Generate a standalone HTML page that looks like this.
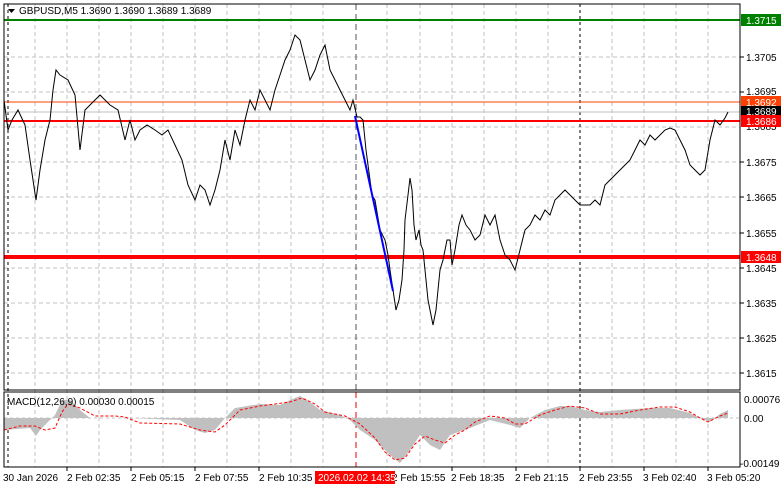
<!DOCTYPE html>
<html><head><meta charset="utf-8"><style>
body{margin:0;background:#fff;width:781px;height:489px;overflow:hidden;font-family:"Liberation Sans",sans-serif}
</style></head><body>
<svg width="781" height="489" viewBox="0 0 781 489" xmlns="http://www.w3.org/2000/svg" font-family="Liberation Sans, sans-serif" font-size="10">
<rect width="781" height="489" fill="#fff"/>
<g stroke="#c0c0c0" stroke-dasharray="4,3" stroke-width="1">
<line x1="4" x2="740" y1="57" y2="57"/><line x1="4" x2="740" y1="92" y2="92"/><line x1="4" x2="740" y1="127" y2="127"/><line x1="4" x2="740" y1="162" y2="162"/><line x1="4" x2="740" y1="197" y2="197"/><line x1="4" x2="740" y1="233" y2="233"/><line x1="4" x2="740" y1="268" y2="268"/><line x1="4" x2="740" y1="303" y2="303"/><line x1="4" x2="740" y1="338" y2="338"/><line x1="4" x2="740" y1="373" y2="373"/>
<path d="M35 4V467M67 4V467M99 4V467M131 4V467M163 4V467M195 4V467M227 4V467M259 4V467M291 4V467M323 4V467M387 4V467M420 4V467M452 4V467M484 4V467M516 4V467M548 4V467M612 4V467M644 4V467M676 4V467M708 4V467"/>
</g>
<line x1="8" x2="8" y1="4" y2="467" stroke="#000" stroke-dasharray="3,3"/>
<line x1="580" x2="580" y1="4" y2="467" stroke="#000" stroke-dasharray="3,3"/>
<line x1="356" x2="356" y1="4" y2="390" stroke="#555" stroke-dasharray="6,4"/>
<line x1="356" x2="356" y1="392" y2="467" stroke="#e00" stroke-dasharray="6,4"/>
<line x1="4" x2="740" y1="20" y2="20" stroke="#008000" stroke-width="2"/>
<line x1="4" x2="740" y1="102" y2="102" stroke="#ff4000" stroke-width="1"/>
<line x1="4" x2="740" y1="112" y2="112" stroke="#c0c0c0" stroke-width="1"/>
<line x1="4" x2="740" y1="121" y2="121" stroke="#ff0000" stroke-width="2"/>
<line x1="4" x2="740" y1="257" y2="257" stroke="#ff0000" stroke-width="4"/>
<polyline fill="none" stroke="#000" stroke-width="1" points="4,100 8,130 12,120 18,110 25,125 30,160 36,200 40,170 45,140 50,120 53,90 56,70 60,75 68,80 75,95 80,150 85,110 90,105 100,95 105,100 110,105 118,110 125,140 130,120 135,140 140,130 147,125 155,130 162,135 168,130 175,145 182,160 188,185 195,200 200,185 205,190 210,205 215,190 220,170 225,140 230,160 235,130 240,145 245,120 250,100 255,110 260,90 265,100 270,110 275,90 280,75 285,60 290,50 295,35 300,40 305,60 310,80 315,70 320,55 325,45 330,70 335,80 340,90 345,100 350,110 353,100 357,117 360,117 363,120 366,150 368,165 372,195 375,200 380,230 385,240 388,255 390,270 393,290 396,310 399,300 402,280 404,250 405,220 408,195 410,178 412,190 414,225 416,240 419,230 421,245 423,250 425,270 428,300 431,315 433,325 436,310 440,270 443,260 447,240 450,240 452,265 455,250 459,225 462,215 466,225 470,230 475,240 480,235 485,215 490,225 495,215 500,240 505,255 510,260 515,270 520,250 525,230 530,225 535,215 540,220 545,210 550,215 555,200 560,195 565,190 570,195 575,200 580,205 585,205 590,205 595,200 600,205 605,185 610,180 615,175 620,170 625,165 630,160 635,150 640,140 645,145 650,135 655,140 660,135 665,130 670,128 675,130 680,140 685,150 690,165 695,170 700,175 705,170 710,140 715,120 720,125 725,118 728,112"/>
<line x1="355" y1="116" x2="393" y2="291" stroke="#0000ff" stroke-width="2"/>
<polygon fill="#c0c0c0" points="4,418 4,430 30,428 36,436 40,430 55,415 62,400 70,400 80,410 90,418 130,418 180,420 195,430 205,433 215,430 225,418 235,408 260,404 280,405 290,400 300,396 310,402 320,410 340,415 350,420 360,430 375,440 390,455 400,463 410,450 420,435 430,445 440,450 450,435 470,428 490,420 510,425 520,428 530,418 545,410 560,406 570,406 585,410 600,412 620,410 650,408 670,408 690,413 700,418 710,422 720,414 728,410 728,418"/>
<line x1="4" x2="740" y1="418" y2="418" stroke="#c0c0c0" stroke-dasharray="3,3"/>
<polyline fill="none" stroke="#ff0000" stroke-dasharray="3,2" points="4,430 20,426 35,426 45,430 55,428 62,412 68,404 80,408 95,416 115,416 125,417 140,423 180,424 200,430 215,432 225,425 240,410 260,406 275,404 290,402 302,398 315,404 325,412 345,416 360,424 375,438 385,452 395,460 405,458 415,444 425,436 435,440 445,443 455,435 465,430 475,422 490,416 505,418 515,424 525,424 540,415 555,410 570,406 585,408 600,414 620,414 640,410 660,407 675,407 690,412 700,418 708,422 720,416 728,413"/>
<rect x="4" y="4" width="736" height="386" fill="none" stroke="#000"/>
<rect x="4" y="392" width="736" height="75" fill="none" stroke="#000"/>
<g stroke="#000"><line x1="740" x2="744" y1="57" y2="57"/><line x1="740" x2="744" y1="92" y2="92"/><line x1="740" x2="744" y1="162" y2="162"/><line x1="740" x2="744" y1="197" y2="197"/><line x1="740" x2="744" y1="233" y2="233"/><line x1="740" x2="744" y1="268" y2="268"/><line x1="740" x2="744" y1="303" y2="303"/><line x1="740" x2="744" y1="338" y2="338"/><line x1="740" x2="744" y1="373" y2="373"/></g>
<g fill="#000"><text x="746" y="61">1.3705</text><text x="746" y="95">1.3695</text><text x="746" y="130">1.3685</text><text x="746" y="166">1.3675</text><text x="746" y="201">1.3665</text><text x="746" y="237">1.3655</text><text x="746" y="272">1.3645</text><text x="746" y="307">1.3635</text><text x="746" y="342">1.3625</text><text x="746" y="377">1.3615</text>
<text x="744" y="403">0.00076</text><text x="744" y="422">0.00</text><text x="740" y="467">-0.00149</text></g>
<rect x="741" y="14" width="40" height="12" fill="#008000"/><text x="746" y="24" fill="#fff">1.3715</text>
<rect x="741" y="96" width="40" height="12" fill="#ff4000"/><text x="746" y="106" fill="#fff">1.3692</text>
<rect x="741" y="106" width="40" height="11" fill="#000"/><text x="746" y="115" fill="#fff">1.3689</text>
<rect x="741" y="115" width="40" height="12" fill="#ff0000"/><text x="746" y="125" fill="#fff">1.3686</text>
<rect x="741" y="251" width="40" height="12" fill="#ff0000"/><text x="746" y="261" fill="#fff">1.3648</text>
<path d="M8 9h7l-3.5 4z" fill="#000"/>
<text x="19" y="14" fill="#000">GBPUSD,M5  1.3690 1.3690 1.3689 1.3689</text>
<text x="7" y="405" fill="#000">MACD(12,26,9) 0.00030 0.00015</text>
<g fill="#000"><text x="3" y="481">30 Jan 2026</text><text x="67" y="481">2 Feb 02:35</text><text x="131" y="481">2 Feb 05:15</text><text x="195" y="481">2 Feb 07:55</text><text x="259" y="481">2 Feb 10:35</text><text x="392" y="481">2 Feb 15:55</text><text x="451" y="481">2 Feb 18:35</text><text x="515" y="481">2 Feb 21:15</text><text x="579" y="481">2 Feb 23:55</text><text x="643" y="481">3 Feb 02:40</text><text x="707" y="481">3 Feb 05:20</text></g>
<rect x="315" y="471" width="80" height="13" fill="#ff0000"/><text x="318" y="481" fill="#fff">2026.02.02 14:35</text>
<g stroke="#000"><line x1="67" x2="67" y1="467" y2="471"/><line x1="131" x2="131" y1="467" y2="471"/><line x1="195" x2="195" y1="467" y2="471"/><line x1="259" x2="259" y1="467" y2="471"/><line x1="452" x2="452" y1="467" y2="471"/><line x1="516" x2="516" y1="467" y2="471"/><line x1="580" x2="580" y1="467" y2="471"/><line x1="644" x2="644" y1="467" y2="471"/><line x1="708" x2="708" y1="467" y2="471"/></g>
</svg>
</body></html>
